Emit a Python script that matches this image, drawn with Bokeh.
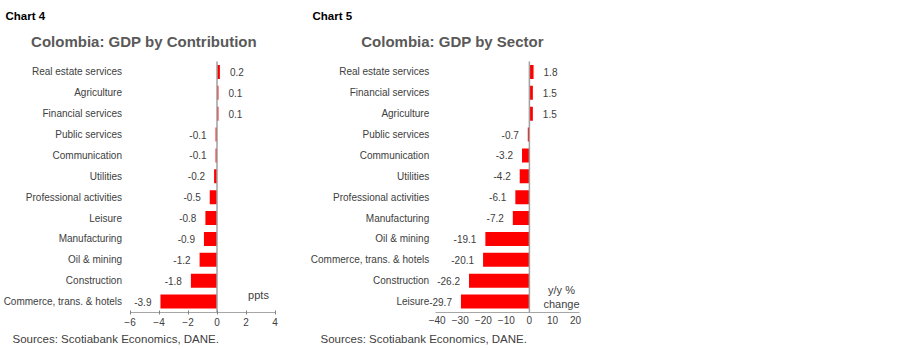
from bokeh.plotting import figure
from bokeh.models import ColumnDataSource, FixedTicker, Range1d, Label
from bokeh.layouts import row
from bokeh.embed import file_html
from bokeh.resources import INLINE
from bokeh.core.properties import value

# ---------------- data ----------------
contrib_sectors = ["Real estate services", "Agriculture", "Financial services", "Public services",
                   "Communication", "Utilities", "Professional activities", "Leisure",
                   "Manufacturing", "Oil & mining", "Construction", "Commerce, trans. & hotels"]
contrib_values = [0.2, 0.1, 0.1, -0.1, -0.1, -0.2, -0.5, -0.8, -0.9, -1.2, -1.8, -3.9]
contrib_ticks = [-6, -4, -2, 0, 2, 4]

sector_names = ["Real estate services", "Financial services", "Agriculture", "Public services",
                "Communication", "Utilities", "Professional activities", "Manufacturing",
                "Oil & mining", "Commerce, trans. & hotels", "Construction", "Leisure"]
sector_values = [1.8, 1.5, 1.5, -0.7, -3.2, -4.2, -6.1, -7.2, -19.1, -20.1, -26.2, -29.7]
sector_ticks = [-40, -30, -20, -10, 0, 10, 20]

FONT = "Liberation Sans"
LABEL_COLOR = "#404040"
AXIS_COLOR = "#a6a6a6"
H = 350


def build(cats, vals, ticks, W, pl, pr, pt, pb, bounds, tick_marks, chart_no, chart_x,
          title, title_cx, units, unit_cx, src_x):
    xmin, xmax = ticks[0], ticks[-1]
    n = len(cats)
    ys = [n - i - 0.5 for i in range(n)]
    sx = (pr - pl) / (xmax - xmin)
    rh = (pb - pt) / n
    p = figure(width=W, height=H, output_backend="svg", toolbar_location=None,
               x_range=Range1d(xmin - pl / sx, xmax + (W - pr) / sx),
               y_range=Range1d(-(H - pb) / rh, n + pt / rh),
               min_border=0, min_border_left=0, min_border_right=0,
               min_border_top=0, min_border_bottom=0)
    p.title.visible = False
    p.outline_line_color = None
    p.xgrid.visible = False
    p.ygrid.visible = False

    src = ColumnDataSource(dict(y=ys, val=vals))
    p.hbar(y="y", right="val", left=0, height=0.67, source=src,
           fill_color="#ff0000", line_color=None)

    # zero reference line across the category band
    p.segment(x0=[0], y0=[0], x1=[0], y1=[n], line_color="#a0a0a0", line_width=1.5)

    for sign, al, xo in ((1, "left", 10), (-1, "right", -9)):
        sel = [i for i, v in enumerate(vals) if (v >= 0) == (sign > 0)]
        s = ColumnDataSource(dict(y=[ys[i] for i in sel], val=[vals[i] for i in sel],
                                  lab=[f"{vals[i]:.1f}" for i in sel]))
        p.text(x="val", y="y", text="lab", source=s, x_offset=xo,
               text_align=al, text_baseline="middle",
               text_font=value(FONT), text_font_size="10px", text_color=LABEL_COLOR)

    xa = p.xaxis[0]
    xa.fixed_location = 0
    xa.bounds = bounds
    xa.ticker = FixedTicker(ticks=ticks)
    xa.axis_line_color = AXIS_COLOR
    if tick_marks:
        xa.major_tick_in = 2
        xa.major_tick_out = 2
        xa.major_tick_line_color = "#808080"
    else:
        xa.major_tick_in = 0
        xa.major_tick_out = 0
        xa.major_tick_line_color = None
    xa.minor_tick_line_color = None
    xa.major_label_standoff = 4
    xa.major_label_text_font = FONT
    xa.major_label_text_font_size = "10px"
    xa.major_label_text_color = LABEL_COLOR

    ya = p.yaxis[0]
    ya.fixed_location = xmin
    ya.ticker = FixedTicker(ticks=ys)
    ya.major_label_overrides = {y: c for y, c in zip(ys, cats)}
    ya.axis_line_color = None
    ya.major_tick_line_color = None
    ya.major_tick_in = 0
    ya.major_tick_out = 0
    ya.minor_tick_line_color = None
    ya.major_label_standoff = 8
    ya.major_label_text_font = FONT
    ya.major_label_text_font_size = "10px"
    ya.major_label_text_color = LABEL_COLOR

    p.add_layout(Label(x=chart_x, y=15, x_units="canvas", y_units="canvas",
                       text=chart_no, text_font=FONT, text_font_size="11.5px",
                       text_font_style="bold", text_color="black",
                       text_baseline="middle"))
    p.add_layout(Label(x=title_cx, y=41, x_units="canvas", y_units="canvas", text=title,
                       text_font=FONT, text_font_size="15px", text_font_style="bold",
                       text_color="#595959", text_align="center", text_baseline="middle"))
    k = len(units)
    for i, t in enumerate(units):
        p.add_layout(Label(x=unit_cx, y=294 + 14 * i - 5 * (k - 1), x_units="canvas",
                           y_units="canvas", text=t, text_font=FONT,
                           text_font_size="11px", text_color=LABEL_COLOR,
                           text_align="center", text_baseline="middle"))
    p.add_layout(Label(x=src_x, y=338, x_units="canvas", y_units="canvas",
                       text="Sources: Scotiabank Economics, DANE.", text_font=FONT,
                       text_font_size="11.5px", text_color=LABEL_COLOR,
                       text_baseline="middle"))
    return p


p1 = build(contrib_sectors, contrib_values, contrib_ticks, 305, 129.5, 274.5, 61, 311.5,
           (-6, 4), True, "Chart 4", 5, "Colombia: GDP by Contribution", 143.5,
           ["ppts"], 258, 12)
p2 = build(sector_names, sector_values, sector_ticks, 593, 436.7 - 305, 575 - 305, 61, 311.5,
           (-40.9, 21.7), False, "Chart 5", 7, "Colombia: GDP by Sector", 147,
           ["y/y %", "change"], 256, 15)

layout = row(p1, p2)
open("out.html", "w").write(file_html(layout, INLINE))
